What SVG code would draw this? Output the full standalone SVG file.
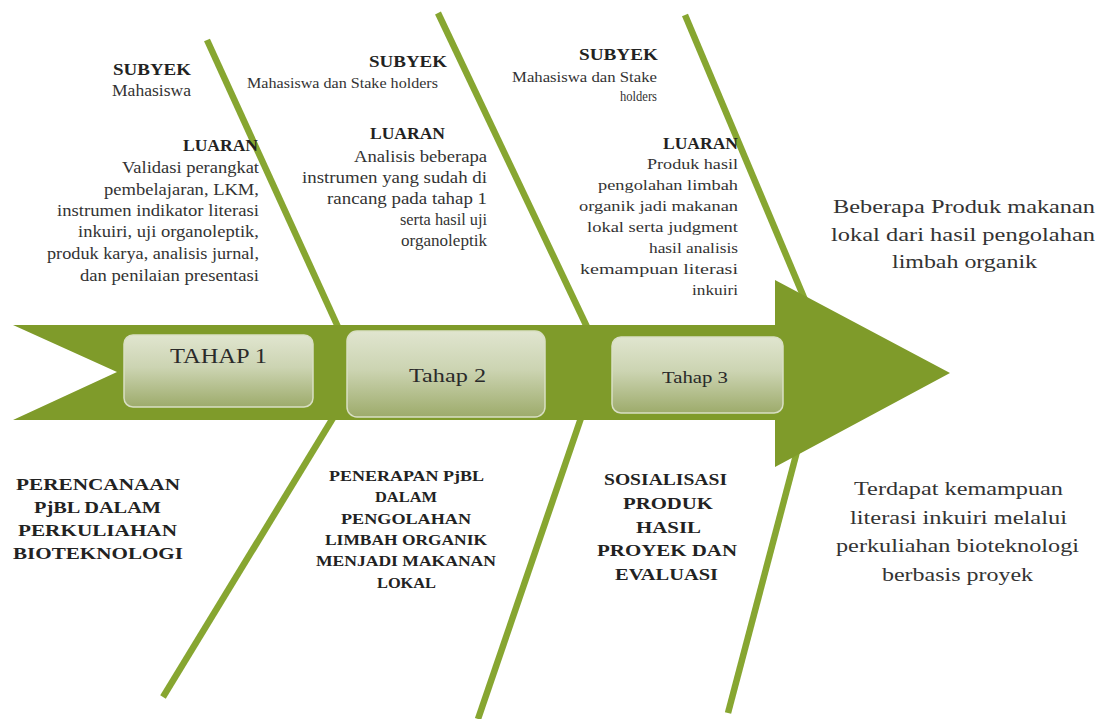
<svg xmlns="http://www.w3.org/2000/svg" width="1099" height="719" viewBox="0 0 1099 719">
<defs>
<linearGradient id="boxg" x1="0" y1="0" x2="0" y2="1">
<stop offset="0" stop-color="#e0e5cf"/>
<stop offset="0.45" stop-color="#ccd4b2"/>
<stop offset="1" stop-color="#9dab6b"/>
</linearGradient>
<style>
.t{fill:#333333}
.b{font-weight:bold;fill:#222222}
.bone{stroke:#87a631;stroke-width:6.5;fill:none}
.box{fill:url(#boxg);stroke:#d9dfc4;stroke-width:1.5}
.lbl{fill:#2a2a2a}
</style>
</defs>
<rect width="1099" height="719" fill="#ffffff"/>
<g id="connectors">
<line class="bone" x1="207" y1="40" x2="338" y2="327"/>
<line class="bone" x1="438" y1="13" x2="587" y2="327"/>
<line class="bone" x1="685" y1="15" x2="805" y2="300"/>
<line class="bone" x1="333" y1="418" x2="163" y2="697"/>
<line class="bone" x1="581" y1="418" x2="478" y2="719"/>
<line class="bone" x1="800" y1="440" x2="728" y2="713"/>
</g>
<g id="spine">
<polygon points="13,325 775,325 775,280 950,373 775,467 775,420 13,420 117,372" fill="#7f9b2a"/>
</g>
<g id="tahap1">
<rect class="box" x="124" y="335" width="189" height="72" rx="9"/>
<text class="lbl" font-family="Liberation Serif" x="170" y="363" font-size="20" textLength="97" lengthAdjust="spacingAndGlyphs">TAHAP 1</text>
</g>
<g id="tahap2">
<rect class="box" x="347" y="331" width="198" height="86" rx="10"/>
<text class="lbl" font-family="Liberation Serif" x="409" y="382" font-size="19" textLength="77" lengthAdjust="spacingAndGlyphs">Tahap 2</text>
</g>
<g id="tahap3">
<rect class="box" x="612" y="337" width="171" height="76" rx="9"/>
<text class="lbl" font-family="Liberation Serif" x="662" y="383" font-size="17" textLength="66" lengthAdjust="spacingAndGlyphs">Tahap 3</text>
</g>
<g id="top1">
<text class="b" font-family="Liberation Serif" x="113" y="75" font-size="16" textLength="78" lengthAdjust="spacingAndGlyphs">SUBYEK</text>
<text class="t" font-family="Liberation Serif" x="112" y="96" font-size="16.5" textLength="79" lengthAdjust="spacingAndGlyphs">Mahasiswa</text>
<text class="b" font-family="Liberation Serif" x="183" y="151" font-size="16" textLength="75" lengthAdjust="spacingAndGlyphs">LUARAN</text>
<text class="t" font-family="Liberation Serif" x="122" y="173" font-size="16.5" textLength="137" lengthAdjust="spacingAndGlyphs">Validasi perangkat</text>
<text class="t" font-family="Liberation Serif" x="104" y="195" font-size="16.5" textLength="155" lengthAdjust="spacingAndGlyphs">pembelajaran, LKM,</text>
<text class="t" font-family="Liberation Serif" x="57" y="216" font-size="16.5" textLength="202" lengthAdjust="spacingAndGlyphs">instrumen indikator literasi</text>
<text class="t" font-family="Liberation Serif" x="78" y="237" font-size="16.5" textLength="181" lengthAdjust="spacingAndGlyphs">inkuiri, uji organoleptik,</text>
<text class="t" font-family="Liberation Serif" x="47" y="259" font-size="16.5" textLength="212" lengthAdjust="spacingAndGlyphs">produk karya, analisis  jurnal,</text>
<text class="t" font-family="Liberation Serif" x="80" y="281" font-size="16.5" textLength="179" lengthAdjust="spacingAndGlyphs">dan penilaian presentasi</text>
</g>
<g id="top2">
<text class="b" font-family="Liberation Serif" x="369" y="67" font-size="16" textLength="78" lengthAdjust="spacingAndGlyphs">SUBYEK</text>
<text class="t" font-family="Liberation Serif" x="247" y="88" font-size="14" textLength="191" lengthAdjust="spacingAndGlyphs">Mahasiswa dan Stake holders</text>
<text class="b" font-family="Liberation Serif" x="370" y="139" font-size="16" textLength="75" lengthAdjust="spacingAndGlyphs">LUARAN</text>
<text class="t" font-family="Liberation Serif" x="354" y="162" font-size="16" textLength="133" lengthAdjust="spacingAndGlyphs">Analisis beberapa</text>
<text class="t" font-family="Liberation Serif" x="302" y="183" font-size="16" textLength="185" lengthAdjust="spacingAndGlyphs">instrumen yang sudah di</text>
<text class="t" font-family="Liberation Serif" x="327" y="204" font-size="16" textLength="160" lengthAdjust="spacingAndGlyphs">rancang pada tahap 1</text>
<text class="t" font-family="Liberation Serif" x="400" y="225" font-size="16" textLength="87" lengthAdjust="spacingAndGlyphs">serta hasil uji</text>
<text class="t" font-family="Liberation Serif" x="401" y="246" font-size="16" textLength="86" lengthAdjust="spacingAndGlyphs">organoleptik</text>
</g>
<g id="top3">
<text class="b" font-family="Liberation Serif" x="579" y="60" font-size="16" textLength="79" lengthAdjust="spacingAndGlyphs">SUBYEK</text>
<text class="t" font-family="Liberation Serif" x="512" y="82" font-size="14" textLength="145" lengthAdjust="spacingAndGlyphs">Mahasiswa dan Stake</text>
<text class="t" font-family="Liberation Serif" x="620" y="101" font-size="14" textLength="37" lengthAdjust="spacingAndGlyphs">holders</text>
<text class="b" font-family="Liberation Serif" x="663" y="149" font-size="16" textLength="75" lengthAdjust="spacingAndGlyphs">LUARAN</text>
<text class="t" font-family="Liberation Serif" x="647" y="169" font-size="15.5" textLength="91" lengthAdjust="spacingAndGlyphs">Produk hasil</text>
<text class="t" font-family="Liberation Serif" x="598" y="190" font-size="15.5" textLength="140" lengthAdjust="spacingAndGlyphs">pengolahan limbah</text>
<text class="t" font-family="Liberation Serif" x="579" y="211" font-size="15.5" textLength="159" lengthAdjust="spacingAndGlyphs">organik jadi makanan</text>
<text class="t" font-family="Liberation Serif" x="587" y="232" font-size="15.5" textLength="151" lengthAdjust="spacingAndGlyphs">lokal serta judgment</text>
<text class="t" font-family="Liberation Serif" x="649" y="253" font-size="15.5" textLength="89" lengthAdjust="spacingAndGlyphs">hasil analisis</text>
<text class="t" font-family="Liberation Serif" x="580" y="274" font-size="15.5" textLength="158" lengthAdjust="spacingAndGlyphs">kemampuan literasi</text>
<text class="t" font-family="Liberation Serif" x="692" y="295" font-size="15.5" textLength="46" lengthAdjust="spacingAndGlyphs">inkuiri</text>
</g>
<g id="result1">
<text class="t" font-family="Liberation Serif" x="833" y="213" font-size="19" textLength="262" lengthAdjust="spacingAndGlyphs">Beberapa Produk makanan</text>
<text class="t" font-family="Liberation Serif" x="831" y="240.5" font-size="19" textLength="264" lengthAdjust="spacingAndGlyphs">lokal dari hasil pengolahan</text>
<text class="t" font-family="Liberation Serif" x="892" y="268" font-size="19" textLength="145" lengthAdjust="spacingAndGlyphs">limbah organik</text>
</g>
<g id="result2">
<text class="t" font-family="Liberation Serif" x="854" y="495" font-size="19" textLength="209" lengthAdjust="spacingAndGlyphs">Terdapat kemampuan</text>
<text class="t" font-family="Liberation Serif" x="850" y="523.5" font-size="19" textLength="217" lengthAdjust="spacingAndGlyphs">literasi inkuiri melalui</text>
<text class="t" font-family="Liberation Serif" x="836" y="552" font-size="19" textLength="243" lengthAdjust="spacingAndGlyphs">perkuliahan bioteknologi</text>
<text class="t" font-family="Liberation Serif" x="882" y="580.5" font-size="19" textLength="151" lengthAdjust="spacingAndGlyphs">berbasis proyek</text>
</g>
<g id="phase1">
<text class="b" font-family="Liberation Serif" x="16" y="490" font-size="17" textLength="164" lengthAdjust="spacingAndGlyphs">PERENCANAAN</text>
<text class="b" font-family="Liberation Serif" x="34" y="513" font-size="17" textLength="127" lengthAdjust="spacingAndGlyphs">PjBL DALAM</text>
<text class="b" font-family="Liberation Serif" x="18" y="536" font-size="17" textLength="159" lengthAdjust="spacingAndGlyphs">PERKULIAHAN</text>
<text class="b" font-family="Liberation Serif" x="13" y="559" font-size="17" textLength="170" lengthAdjust="spacingAndGlyphs">BIOTEKNOLOGI</text>
</g>
<g id="phase2">
<text class="b" font-family="Liberation Serif" x="329" y="481" font-size="14.5" textLength="155" lengthAdjust="spacingAndGlyphs">PENERAPAN PjBL</text>
<text class="b" font-family="Liberation Serif" x="375" y="502" font-size="14.5" textLength="62" lengthAdjust="spacingAndGlyphs">DALAM</text>
<text class="b" font-family="Liberation Serif" x="341" y="523.5" font-size="14.5" textLength="130" lengthAdjust="spacingAndGlyphs">PENGOLAHAN</text>
<text class="b" font-family="Liberation Serif" x="325" y="545" font-size="14.5" textLength="162" lengthAdjust="spacingAndGlyphs">LIMBAH ORGANIK</text>
<text class="b" font-family="Liberation Serif" x="316" y="566" font-size="14.5" textLength="180" lengthAdjust="spacingAndGlyphs">MENJADI MAKANAN</text>
<text class="b" font-family="Liberation Serif" x="377" y="587.5" font-size="14.5" textLength="59" lengthAdjust="spacingAndGlyphs">LOKAL</text>
</g>
<g id="phase3">
<text class="b" font-family="Liberation Serif" x="604" y="485" font-size="16" textLength="123" lengthAdjust="spacingAndGlyphs">SOSIALISASI</text>
<text class="b" font-family="Liberation Serif" x="623" y="509" font-size="16" textLength="90" lengthAdjust="spacingAndGlyphs">PRODUK</text>
<text class="b" font-family="Liberation Serif" x="636" y="533" font-size="16" textLength="65" lengthAdjust="spacingAndGlyphs">HASIL</text>
<text class="b" font-family="Liberation Serif" x="597" y="556" font-size="16" textLength="140" lengthAdjust="spacingAndGlyphs">PROYEK DAN</text>
<text class="b" font-family="Liberation Serif" x="615" y="580" font-size="16" textLength="103" lengthAdjust="spacingAndGlyphs">EVALUASI</text>
</g>
</svg>
